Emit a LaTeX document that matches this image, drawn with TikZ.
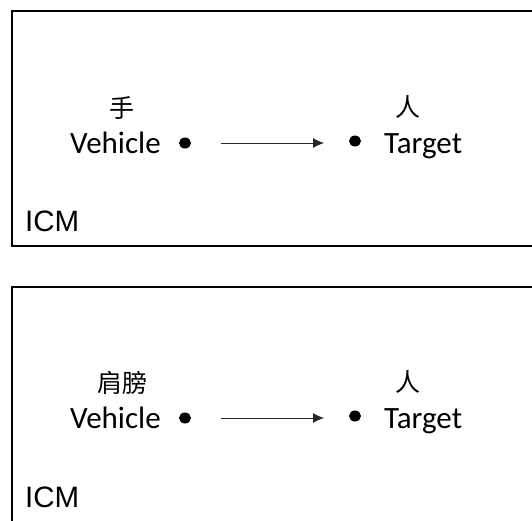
\documentclass[tikz,border=0pt]{standalone}
\usepackage{fontspec}
\setmainfont{Carlito}
\newfontfamily\cjk{Noto Sans CJK SC}
\newfontfamily\arialike{Liberation Sans}
\usetikzlibrary{arrows.meta,shapes.geometric}
\tikzset{
  panel/.style={draw=black, line width=1.6pt},
  lbl/.style={anchor=base west, inner sep=0pt, font=\fontsize{31}{31}\selectfont},
  tag/.style={anchor=base west, inner sep=0pt, font=\arialike\fontsize{29.5}{29.5}\selectfont},
  cjklbl/.style={anchor=center, inner sep=0pt, font=\cjk\fontsize{25}{25}\selectfont},
  pt/.style={ellipse, fill=black, inner sep=0pt, minimum width=12pt, minimum height=11pt},
  link/.style={-{Latex[length=11pt,width=10pt]}, line width=0.9pt, draw=black!85}
}
\begin{document}
\begin{tikzpicture}[x=1pt,y=-1pt]
\clip (0,0) rectangle (532,520);
\fill[white] (0,0) rectangle (532,520);
% top panel
\draw[panel] (12,11) rectangle (545,246);
\node[cjklbl] (h1) at (122,108) {手};
\node[lbl] (v1) at (70,153) {Vehicle};
\node[pt] (d1) at (185,143) {};
\node[pt] (t1) at (355,141) {};
\node[lbl] (g1) at (384,153) {Target};
\node[cjklbl] (r1) at (408,107) {人};
\node[tag] (i1) at (25,231) {ICM};
\coordinate (a1) at (221,143);
\coordinate (b1) at (324,143);
\draw[link] (a1) -- (b1);
% bottom panel
\draw[panel] (12,287) rectangle (545,530);
\node[cjklbl] (h2) at (122,383) {肩膀};
\node[lbl] (v2) at (70,428) {Vehicle};
\node[pt] (d2) at (185,418) {};
\node[pt] (t2) at (355,416) {};
\node[lbl] (g2) at (384,428) {Target};
\node[cjklbl] (r2) at (408,382) {人};
\node[tag] (i2) at (25,507) {ICM};
\coordinate (a2) at (221,418);
\coordinate (b2) at (324,418);
\draw[link] (a2) -- (b2);
\end{tikzpicture}
\end{document}
